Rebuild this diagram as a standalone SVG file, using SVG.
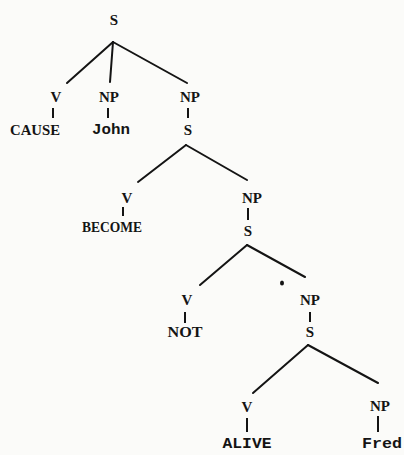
<svg xmlns="http://www.w3.org/2000/svg" width="404" height="455" viewBox="0 0 404 455">
<style>
.bg{fill:#fbfbf9}
.e{stroke:#141414;stroke-width:2;fill:none;stroke-linecap:round}
.t{stroke:#141414;stroke-width:2;fill:none}
text{font-family:"Liberation Serif","DejaVu Serif",serif;font-weight:bold;font-size:15px;fill:#141414;text-anchor:middle}
.m{font-family:"Liberation Mono","DejaVu Sans Mono",monospace;font-size:14px}
</style>
<rect class="bg" width="404" height="455"/>
<g id="connectors">
<line class="e" x1="113" y1="42" x2="67" y2="83"/>
<line class="e" x1="113" y1="42" x2="110" y2="82"/>
<line class="e" x1="113" y1="42" x2="187" y2="83"/>
<line class="e" x1="186" y1="145" x2="138" y2="182"/>
<line class="e" x1="186" y1="145" x2="247" y2="180"/>
<line class="e" x1="247" y1="245" x2="200" y2="285"/>
<line class="e" x1="247" y1="245" x2="305" y2="277"/>
<line class="e" x1="308" y1="345" x2="253" y2="393"/>
<line class="e" x1="308" y1="345" x2="378" y2="383"/>
<line class="t" x1="53" y1="108" x2="53" y2="118"/>
<line class="t" x1="108" y1="108" x2="108" y2="118"/>
<line class="t" x1="188" y1="108" x2="188" y2="118"/>
<line class="t" x1="123" y1="207" x2="123" y2="216"/>
<line class="t" x1="248" y1="208" x2="248" y2="220"/>
<line class="t" x1="185" y1="312" x2="185" y2="323"/>
<line class="t" x1="310" y1="312" x2="310" y2="322"/>
<line class="t" x1="247" y1="418" x2="247" y2="432"/>
<line class="t" x1="378" y1="416" x2="378" y2="432"/>
</g>
<g id="s1"><text x="114" y="25">S</text></g>
<g id="v1"><text x="56" y="102">V</text><text x="35" y="135" textLength="50" lengthAdjust="spacingAndGlyphs">CAUSE</text></g>
<g id="np1"><text x="109" y="102">NP</text><text class="m" x="111" y="134" textLength="38" lengthAdjust="spacingAndGlyphs">John</text></g>
<g id="np2"><text x="190" y="102">NP</text><text x="188" y="135">S</text></g>
<g id="v2"><text x="127" y="203">V</text><text x="112" y="232" textLength="60" lengthAdjust="spacingAndGlyphs">BECOME</text></g>
<g id="np3"><text x="252" y="203">NP</text><text x="248" y="236">S</text></g>
<g id="v3"><text x="187" y="305">V</text><text x="185" y="337" textLength="35" lengthAdjust="spacingAndGlyphs">NOT</text></g>
<g id="np4"><text x="310" y="305">NP</text><text x="310" y="337">S</text></g>
<g id="v4"><text x="247" y="412">V</text><text class="m" x="247" y="448" textLength="49" lengthAdjust="spacingAndGlyphs">ALIVE</text></g>
<g id="np5"><text x="380" y="411">NP</text><text class="m" x="382" y="448" textLength="40" lengthAdjust="spacingAndGlyphs">Fred</text></g>
<ellipse cx="282" cy="283" rx="2" ry="2.5" fill="#141414"/>
</svg>
